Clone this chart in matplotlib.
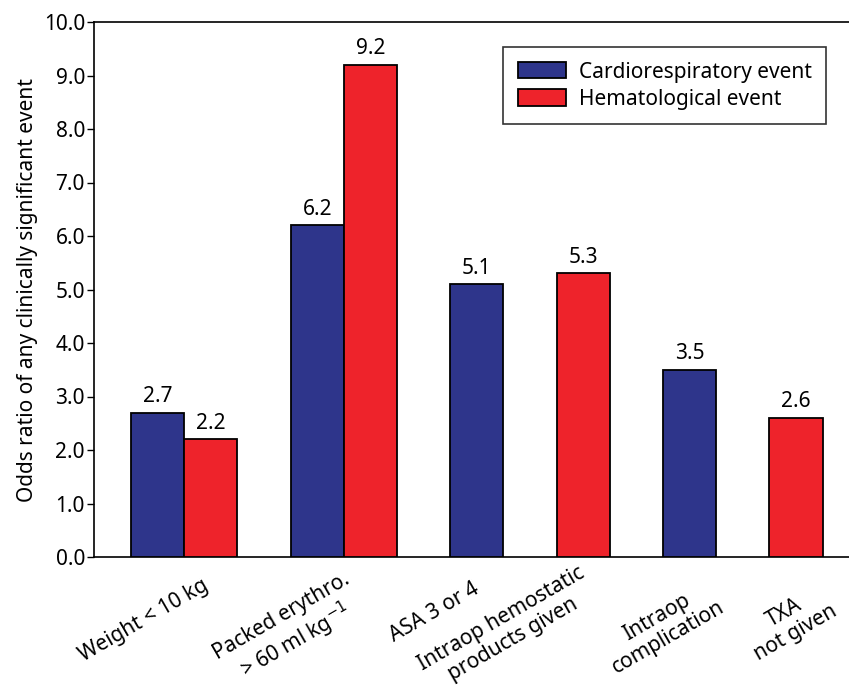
import numpy as np
import matplotlib
matplotlib.use("Agg")
import matplotlib.pyplot as plt
import matplotlib.transforms as mtransforms
from matplotlib.patches import Patch

categories = ["Weight < 10 kg",
              "Packed erythro.\n> 60 ml kg$^{-1}$",
              "ASA 3 or 4",
              "Intraop hemostatic\nproducts given",
              "Intraop\ncomplication",
              "TXA\nnot given"]
cardio = [2.7, 6.2, 5.1, None, 3.5, None]
hemato = [2.2, 9.2, None, 5.3, None, 2.6]
series_names = ["Cardiorespiratory event", "Hematological event"]
yticks = np.arange(0, 10.01, 1.0)

# layout: offset (pixels) of each category label's centre from its tick position
label_offsets_px = [(-40, -64), (-54, -74), (-42, -55), (-76, -72), (-27, -70), (-6, -66)]

blue = "#2E358B"
red = "#EE232B"

plt.rcParams['font.family'] = ['Noto Sans', 'DejaVu Sans']
FS = 15

fig = plt.figure(figsize=(8.49, 6.95), dpi=100)
ax = fig.add_axes([94/849, 1-557/695, 1-94/849, (557-22)/695])

start = 0.0
centers = []
for c, h in zip(cardio, hemato):
    x = start
    for v, col in [(c, blue), (h, red)]:
        if v is None:
            continue
        ax.bar(x, v, width=1.0, align='edge', color=col, edgecolor='black', linewidth=1.3, zorder=3)
        ax.annotate(f"{v:.1f}", (x + 0.5, v), xytext=(0, 4), textcoords='offset points',
                    ha='center', va='bottom', fontsize=FS)
        x += 1
    centers.append((start + x) / 2)
    start = x + 1

ax.set_xlim(-37/53.2, 718/53.2)
ax.set_ylim(0, 10)
ax.set_yticks(yticks)
ax.set_yticklabels([f"{t:.1f}" for t in yticks], fontsize=FS)
ax.set_xticks([])
ax.tick_params(axis='y', direction='out', length=5, width=1, pad=1.5)
ax.spines['right'].set_visible(False)
for s in ['left', 'top', 'bottom']:
    ax.spines[s].set_linewidth(1.2)
ax.set_ylabel("Odds ratio of any clinically significant event", fontsize=FS, labelpad=4)

base = mtransforms.blended_transform_factory(ax.transData, ax.transAxes)
for cx, lab, (dx, dy) in zip(centers, categories, label_offsets_px):
    tr = base + mtransforms.ScaledTranslation(dx / 100, dy / 100, fig.dpi_scale_trans)
    ax.text(cx, 0, lab, transform=tr, rotation=30, rotation_mode='anchor',
            ha='center', va='center', multialignment='center', fontsize=FS,
            linespacing=1.12, clip_on=False)

handles = [Patch(facecolor=blue, edgecolor='black', linewidth=1.3),
           Patch(facecolor=red, edgecolor='black', linewidth=1.3)]
leg = fig.legend(handles, series_names, loc='upper left', bbox_to_anchor=(503/849, 1-47/695),
                 fontsize=FS, frameon=True, fancybox=False, handlelength=2.3, handleheight=0.82,
                 handletextpad=0.63, labelspacing=0.3, borderpad=0.7, borderaxespad=0)
leg.get_frame().set_edgecolor('black')
leg.get_frame().set_linewidth(1.2)

fig.savefig("out.png", dpi=100)
